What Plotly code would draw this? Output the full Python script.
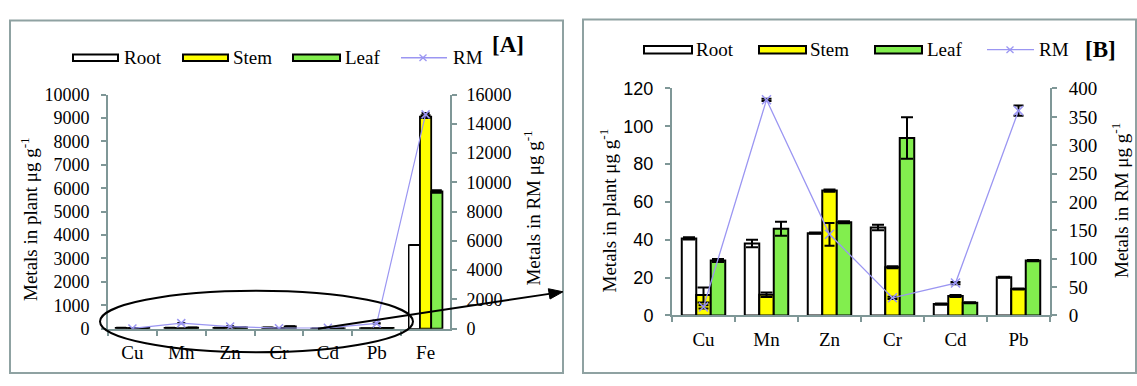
import math
import plotly.graph_objects as go

# ---------------- data ----------------
metals_a = ["Cu", "Mn", "Zn", "Cr", "Cd", "Pb", "Fe"]
metals_b = ["Cu", "Mn", "Zn", "Cr", "Cd", "Pb"]

root = [40.7, 38.0, 43.5, 46.5, 6.0, 20.2]
stem = [10.8, 10.9, 66.0, 25.5, 10.3, 14.0]
leaf = [29.0, 45.8, 49.3, 93.8, 6.7, 29.0]
rm = [15, 380, 143, 31, 57, 361]

root_err = [0.6, 2.0, 0.3, 1.5, 0.3, 0.3]
stem_err = [4.0, 1.2, 0.6, 0.5, 0.5, 0.3]
leaf_err = [0.8, 3.7, 0.5, 11.0, 0.3, 0.3]
rm_err = [3, 2, 20, 2, 2, 9]

fe_root = [3570]
fe_stem = [9060]
fe_leaf = [5860]
fe_rm = [14650]
fe_root_err = [0]
fe_stem_err = [60]
fe_leaf_err = [50]
fe_rm_err = [100]

legend_names = ["Root", "Stem", "Leaf", "RM"]

# ---------------- style ----------------
W, H = 1137, 386
SERIF = "Liberation Serif"
SANS = "Liberation Sans"
AXC = "#7f9797"
BORDER = "#8fa2a2"
YEL = "#ffff00"
GRN = "#82ee4e"
WHITE = "#ffffff"
RMC = "#9b96f2"


def px(x):
    return x / W


def py(y):
    return 1 - y / H


fig = go.Figure()


def add_bars(xcats, vals, errs, color, xa, ya, lw, capw, name):
    fig.add_trace(go.Bar(
        x=xcats, y=vals, xaxis=xa, yaxis=ya, name=name,
        marker=dict(color=color, line=dict(color="black", width=lw)),
        error_y=dict(type="data", array=errs, color="black", thickness=2, width=capw),
        showlegend=False,
    ))


# Panel A
add_bars(metals_a, root + fe_root, root_err + fe_root_err, WHITE, "x", "y", 1.5, 5, "Root")
add_bars(metals_a, stem + fe_stem, stem_err + fe_stem_err, YEL, "x", "y", 1.8, 5, "Stem")
add_bars(metals_a, leaf + fe_leaf, leaf_err + fe_leaf_err, GRN, "x", "y", 1.8, 5, "Leaf")
fig.add_trace(go.Scatter(
    x=metals_a, y=rm + fe_rm, xaxis="x", yaxis="y2", mode="lines+markers", name="RM",
    line=dict(color=RMC, width=1.2),
    marker=dict(symbol="x-thin", size=8, line=dict(color=RMC, width=1.5)),
    error_y=dict(type="data", array=rm_err + fe_rm_err, color="black", thickness=2, width=4),
    showlegend=False,
))

# Panel B
add_bars(metals_b, root, root_err, WHITE, "x2", "y3", 2, 6, "Root")
add_bars(metals_b, stem, stem_err, YEL, "x2", "y3", 2, 6, "Stem")
add_bars(metals_b, leaf, leaf_err, GRN, "x2", "y3", 2, 6, "Leaf")
fig.add_trace(go.Scatter(
    x=metals_b, y=rm, xaxis="x2", yaxis="y4", mode="lines+markers", name="RM",
    line=dict(color=RMC, width=1.3),
    marker=dict(symbol="x-thin", size=9, line=dict(color=RMC, width=1.5)),
    error_y=dict(type="data", array=rm_err, color="black", thickness=2, width=5),
    showlegend=False,
))

axis_common = dict(
    showline=True, linecolor=AXC, linewidth=2, showgrid=False, zeroline=False,
    ticks="outside", ticklen=5, tickwidth=1.5, tickcolor=AXC,
)

fig.update_layout(
    width=W, height=H,
    margin=dict(l=0, r=0, t=0, b=0),
    paper_bgcolor="white", plot_bgcolor="white",
    barmode="group", bargap=0.31, bargroupgap=0,
    xaxis=dict(domain=[px(108), px(450)], anchor="y", type="category",
               tickson="boundaries", ticklabelstandoff=6,
               tickfont=dict(family=SERIF, size=19, color="black"), **axis_common),
    yaxis=dict(domain=[py(337), py(89.5)], anchor="x", range=[0, 10000], dtick=1000,
               tickformat="d", ticklabelstandoff=8,
               tickfont=dict(family=SERIF, size=18, color="black"), **axis_common),
    yaxis2=dict(overlaying="y", anchor="x", side="right", range=[0, 16000], dtick=2000,
                tickformat="d", ticklabelstandoff=6,
                tickfont=dict(family=SERIF, size=18, color="black"), **axis_common),
    xaxis2=dict(domain=[px(672), px(1050)], anchor="y3", type="category",
                tickson="boundaries", ticklabelstandoff=6,
                tickfont=dict(family=SERIF, size=19, color="black"), **axis_common),
    yaxis3=dict(domain=[py(323), py(83)], anchor="x2", range=[0, 120], dtick=20,
                ticklabelstandoff=8,
                tickfont=dict(family=SANS, size=18, color="black"), **axis_common),
    yaxis4=dict(overlaying="y3", anchor="x2", side="right", range=[0, 400], dtick=50,
                ticklabelstandoff=8,
                tickfont=dict(family=SERIF, size=19, color="black"), **axis_common),
)

shapes = []
annotations = []

# Panel borders
shapes.append(dict(type="rect", xref="paper", yref="paper", x0=px(10), x1=px(563),
                   y0=py(384), y1=py(11), line=dict(color=BORDER, width=2)))
shapes.append(dict(type="rect", xref="paper", yref="paper", x0=px(583), x1=px(1136),
                   y0=py(384), y1=py(10), line=dict(color=BORDER, width=2)))


def legend(xs, yc, box_h, label_x, rm_line, rm_marker_x, rm_text_x, tag, tag_x, tag_y):
    fills = [WHITE, YEL, GRN]
    for (x0, x1), fill, name, lx in zip(xs, fills, legend_names[:3], label_x):
        shapes.append(dict(type="rect", xref="paper", yref="paper", x0=px(x0), x1=px(x1),
                           y0=py(yc + box_h / 2), y1=py(yc - box_h / 2),
                           fillcolor=fill, line=dict(color="black", width=2)))
        annotations.append(dict(xref="paper", yref="paper", x=px(lx), y=py(yc), text=name,
                                showarrow=False, xanchor="left", yanchor="middle",
                                font=dict(family=SERIF, size=19, color="black")))
    shapes.append(dict(type="line", xref="paper", yref="paper", x0=px(rm_line[0]), x1=px(rm_line[1]),
                       y0=py(yc), y1=py(yc), line=dict(color=RMC, width=1.3)))
    for d in (-1, 1):
        shapes.append(dict(type="line", xref="paper", yref="paper",
                           x0=px(rm_marker_x - 3.5), x1=px(rm_marker_x + 3.5),
                           y0=py(yc - 3.5 * d), y1=py(yc + 3.5 * d),
                           line=dict(color=RMC, width=1.3)))
    annotations.append(dict(xref="paper", yref="paper", x=px(rm_text_x), y=py(yc), text=legend_names[3],
                            showarrow=False, xanchor="left", yanchor="middle",
                            font=dict(family=SERIF, size=19, color="black")))
    annotations.append(dict(xref="paper", yref="paper", x=px(tag_x), y=py(tag_y), text="<b>" + tag + "</b>",
                            showarrow=False, xanchor="left", yanchor="middle",
                            font=dict(family=SERIF, size=23, color="black")))


legend([(73, 118), (183, 228), (293, 340)], 50.5, 7, [122, 231, 343],
       (401, 447), 423, 451, "[A]", 490, 37)
legend([(644, 692), (759, 806), (875, 922)], 42, 8, [694, 808, 925],
       (987, 1034), 1010, 1037, "[B]", 1083, 42)


# Axis titles
def vtitle(x, y, text):
    annotations.append(dict(xref="paper", yref="paper", x=px(x), y=py(y), text=text,
                            showarrow=False, textangle=-90, xanchor="center", yanchor="middle",
                            font=dict(family=SERIF, size=19, color="black")))


vtitle(29, 221, "Metals in plant μg g<sup>-1</sup>")
vtitle(532, 210, "Metals in RM μg g<sup>-1</sup>")
vtitle(608, 212, "Metals in plant μg g<sup>-1</sup>")
vtitle(1120, 202, "Metals in RM μg g<sup>-1</sup>")

# Ellipse highlighting the small values in panel A
shapes.append(dict(type="circle", xref="paper", yref="paper", x0=px(100), x1=px(413),
                   y0=py(362), y1=py(297), line=dict(color="black", width=2)))

# Arrow pointing from panel A to panel B (line + triangular head)
tail = (318, 337)
tip = (563, 298)
ang = math.atan2(tip[1] - tail[1], tip[0] - tail[0])
hl, hw = 14, 5.5
bx, by = tip[0] - hl * math.cos(ang), tip[1] - hl * math.sin(ang)
nx, ny = -math.sin(ang), math.cos(ang)
shapes.append(dict(type="line", xref="paper", yref="paper", x0=px(tail[0]), y0=py(tail[1]),
                   x1=px(bx), y1=py(by), line=dict(color="black", width=2)))
pts = [tip, (bx + hw * nx, by + hw * ny), (bx - hw * nx, by - hw * ny)]
path = "M " + " L ".join(f"{px(a):.5f},{py(b):.5f}" for a, b in pts) + " Z"
shapes.append(dict(type="path", xref="paper", yref="paper", path=path,
                   fillcolor="black", line=dict(color="black", width=1)))

fig.update_layout(shapes=shapes, annotations=annotations)

fig.write_html(
    "out.html",
    config={"displayModeBar": False},
    post_script="document.documentElement.style.margin='0';document.body.style.margin='0';"
                "document.body.style.overflow='hidden';",
)
